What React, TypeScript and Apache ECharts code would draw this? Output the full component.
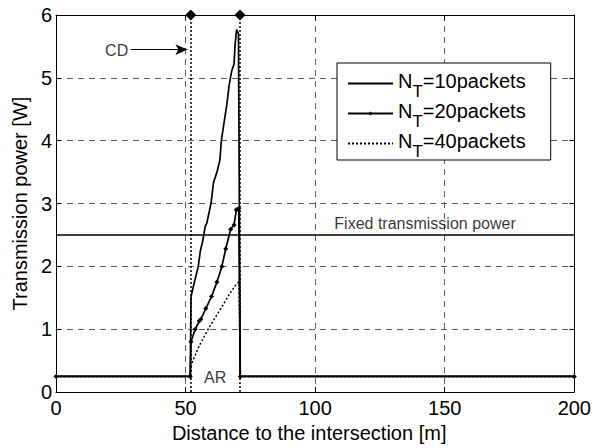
import React, { useEffect, useRef } from "react";
import * as echarts from "echarts";

// ---- data ----
const seriesNames = ["NT=10packets", "NT=20packets", "NT=40packets"];
const legendLabels: Record<string, string> = {
  "NT=10packets": "=10packets",
  "NT=20packets": "=20packets",
  "NT=40packets": "=40packets",
};

const nt10: [number, number][] = [
  [0, 0.25], [51.8, 0.25], [52.1, 1.52], [53.4, 1.75], [54.9, 2.0], [55.7, 2.25],
  [56.5, 2.38], [57.6, 2.64], [58.2, 2.69], [59.8, 3.0], [60.8, 3.34], [62.1, 3.5],
  [63.2, 3.68], [63.8, 4.0], [65.3, 4.41], [65.9, 4.57], [66.8, 4.88], [67.8, 5.11],
  [68.7, 5.22], [69.1, 5.53], [69.7, 5.77], [70.4, 5.7], [71.1, 0.25], [200, 0.25],
];

const nt20: [number, number][] = [
  [0, 0.25], [51.8, 0.25], [52.1, 0.8], [53.7, 1.0], [55.3, 1.13], [55.9, 1.16],
  [57.8, 1.33], [60.0, 1.52], [62.1, 1.75], [64.0, 2.0], [65.5, 2.28], [67.4, 2.59],
  [68.7, 2.66], [69.6, 2.9], [70.5, 2.92], [71.1, 0.25], [200, 0.25],
];

const nt40: [number, number][] = [
  [0, 0.25], [51.8, 0.25], [52.0, 0.42], [55.3, 0.74], [59.1, 1.03], [63.0, 1.29],
  [66.8, 1.55], [69.6, 1.72], [70.6, 1.75], [71.1, 0.25], [200, 0.25],
];

const fixedPower = 2.5;
const fixedLine: [number, number][] = [[0, fixedPower], [200, fixedPower]];
const arBounds = [52, 71];
const cdArrow: [number, number][] = [[28.8, 5.45], [50.7, 5.45]];
const annotations = [
  { name: "CD", value: [23.4, 5.44] },
  { name: "AR", value: [61.4, 0.23] },
  { name: "Fixed transmission power", value: [142.4, 2.69] },
];

const xMin = 0, xMax = 200, xStep = 50;
const yMin = 0, yMax = 6, yStep = 1;

const FONT = "Liberation Sans";

export default function App() {
  const ref = useRef<HTMLDivElement>(null);

  useEffect(() => {
    const chart = echarts.init(ref.current!, null, { renderer: "svg" });
    const axisLine = { show: true, onZero: false, lineStyle: { color: "#000", width: 1 } };
    const axisTick = { show: true, inside: true, length: 5, lineStyle: { color: "#000", width: 1 } };
    const splitLine = { show: true, lineStyle: { color: "#333", width: 0.8, type: [6, 5] as any } };
    const labelStyle = { color: "#000", fontSize: 20, fontFamily: FONT };

    chart.setOption({
      animation: false,
      backgroundColor: "#fff",
      grid: { left: 56, right: 17, top: 15, bottom: 49, containLabel: false },
      legend: {
        data: [
          { name: seriesNames[0], itemStyle: { opacity: 0 } },
          { name: seriesNames[1] },
          { name: seriesNames[2], itemStyle: { opacity: 0 } },
        ],
        orient: "vertical",
        left: 337,
        top: 63,
        backgroundColor: "#fff",
        borderColor: "#000",
        borderWidth: 1,
        borderRadius: 0,
        padding: [4, 25, 0, 10],
        itemWidth: 45,
        itemHeight: 5,
        itemGap: -3,
        inactiveColor: "#000",
        selectedMode: false,
        formatter: (name: string) => `{n|N}{s|T}{n|${legendLabels[name]}}`,
        textStyle: {
          color: "#000",
          fontFamily: FONT,
          rich: {
            n: { fontSize: 20, lineHeight: 20, fontFamily: FONT, color: "#000", padding: [0, 0, 6, 0] },
            s: { fontSize: 17, lineHeight: 17, fontFamily: FONT, color: "#000", padding: [16, 0, 0, 0] },
          },
        },
      },
      xAxis: [
        {
          type: "value", min: xMin, max: xMax, interval: xStep, position: "bottom",
          axisLine, axisTick, splitLine,
          axisLabel: { ...labelStyle, margin: 6 },
          name: "Distance to the intersection [m]",
          nameLocation: "middle", nameGap: 28,
          nameTextStyle: { ...labelStyle, padding: [0, 12, 0, 0] },
        },
        {
          type: "value", min: xMin, max: xMax, interval: xStep, position: "top",
          axisLine, axisTick, splitLine: { show: false }, axisLabel: { show: false },
        },
      ],
      yAxis: [
        {
          type: "value", min: yMin, max: yMax, interval: yStep, position: "left",
          axisLine, axisTick, splitLine,
          axisLabel: { ...labelStyle, margin: 4 },
          name: "Transmission power [W]",
          nameLocation: "middle", nameGap: 22,
          nameTextStyle: { ...labelStyle },
        },
        {
          type: "value", min: yMin, max: yMax, interval: yStep, position: "right",
          axisLine, axisTick, splitLine: { show: false }, axisLabel: { show: false },
        },
      ],
      series: [
        {
          name: "Fixed", type: "line", data: fixedLine, showSymbol: false, silent: true,
          lineStyle: { color: "#000", width: 1.5 }, z: 3,
        },
        {
          name: seriesNames[0], type: "line", data: nt10, showSymbol: false,
          symbol: "none", color: "#000",
          lineStyle: { color: "#000", width: 1.7 }, z: 4,
        },
        {
          name: seriesNames[1], type: "line", data: nt20, showSymbol: true,
          symbol: "diamond", symbolSize: 5, color: "#000",
          itemStyle: { color: "#000" },
          lineStyle: { color: "#000", width: 1.7 }, z: 5,
        },
        {
          name: seriesNames[2], type: "line", data: nt40, showSymbol: false,
          symbol: "none", color: "#000",
          lineStyle: { color: "#000", width: 1.5, type: [2, 2] as any }, z: 6,
        },
        {
          name: "annot", type: "scatter", data: annotations, symbolSize: 0, silent: true,
          clip: false, z: 10,
          label: {
            show: true, position: "inside", formatter: "{b}",
            color: "#000", fontSize: 16, fontFamily: FONT,
          },
          markLine: {
            silent: true,
            animation: false,
            label: { show: false },
            data: [
              [
                { coord: [arBounds[0], yMin], symbol: "none", lineStyle: { type: [2, 2], width: 1.5, color: "#000" } },
                { coord: [arBounds[0], yMax], symbol: "diamond", symbolSize: 11 },
              ],
              [
                { coord: [arBounds[1], yMin], symbol: "none", lineStyle: { type: [2, 2], width: 1.5, color: "#000" } },
                { coord: [arBounds[1], yMax], symbol: "diamond", symbolSize: 11 },
              ],
              [
                { coord: cdArrow[0], symbol: "none", lineStyle: { type: "solid", width: 1, color: "#000" } },
                { coord: cdArrow[1], symbol: "arrow", symbolSize: [8, 12] },
              ],
            ],
            lineStyle: { color: "#000" },
            itemStyle: { color: "#000" },
          },
        },
      ],
    });

    return () => chart.dispose();
  }, []);

  return (
    <div
      ref={ref}
      style={{ position: "absolute", left: 0, top: 0, width: 594, height: 448 }}
    />
  );
}
